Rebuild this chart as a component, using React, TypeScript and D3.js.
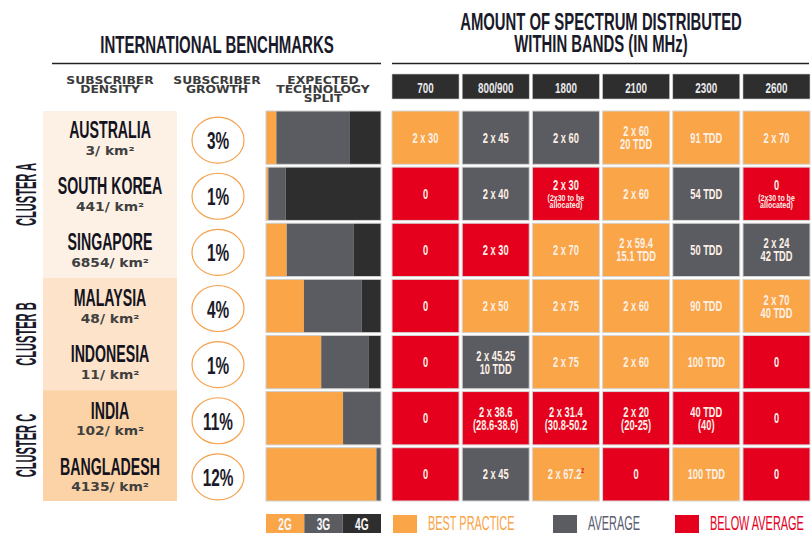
import React, { useEffect, useRef } from "react";
import * as d3 from "d3";

const countries = ["AUSTRALIA", "SOUTH KOREA", "SINGAPORE", "MALAYSIA", "INDONESIA", "INDIA", "BANGLADESH"];
const densities = [3, 441, 6854, 48, 11, 102, 4135];
const growth = [3, 1, 1, 4, 1, 11, 12];
const clusterOf = ["A", "A", "A", "B", "B", "C", "C"];
const clusters = ["A", "B", "C"];
const share2G = [9, 2, 18, 33, 48, 67, 96];
const share3G = [64, 15, 58, 50, 41, 33, 4];
const share4G = [27, 83, 24, 17, 11, 0, 0];
const techLabels = ["2G", "3G", "4G"];
const bands = ["700", "800/900", "1800", "2100", "2300", "2600"];
// "|" splits a cell into lines
const spectrum = [
    ["2 x 30", "2 x 45", "2 x 60", "2 x 60|20 TDD", "91 TDD", "2 x 70"],
    ["0", "2 x 40", "2 x 30", "2 x 60", "54 TDD", "0"],
    ["0", "2 x 30", "2 x 70", "2 x 59.4|15.1 TDD", "50 TDD", "2 x 24|42 TDD"],
    ["0", "2 x 50", "2 x 75", "2 x 60", "90 TDD", "2 x 70|40 TDD"],
    ["0", "2 x 45.25|10 TDD", "2 x 75", "2 x 60", "100 TDD", "0"],
    ["0", "2 x 38.6|(28.6-38.6)", "2 x 31.4|(30.8-50.2", "2 x 20|(20-25)", "40 TDD|(40)", "0"],
    ["0", "2 x 45", "2 x 67.2", "0", "100 TDD", "0"],
];
const rating = [
    ["best", "avg", "avg", "best", "best", "best"],
    ["below", "avg", "below", "best", "avg", "below"],
    ["below", "below", "best", "best", "avg", "avg"],
    ["below", "best", "best", "best", "best", "best"],
    ["below", "avg", "best", "best", "best", "below"],
    ["below", "below", "below", "below", "below", "below"],
    ["below", "avg", "best", "below", "best", "below"],
];
const notes = [
    { row: 1, col: 2, text: "(2x30 to be|allocated)" },
    { row: 1, col: 5, text: "(2x30 to be|allocated)" },
];
const footnotes = [{ row: 6, col: 2, mark: "2" }];
const ratingKeys = ["best", "avg", "below"];
const ratingLabels = ["BEST PRACTICE", "AVERAGE", "BELOW AVERAGE"];

const ORANGE = "#f9a548";
const GREY = "#5b5c61";
const DARK = "#2e2e2e";
const RED = "#e5001e";
const NAVY = "#1a1a2a";
const COND = "'Liberation Sans', Arial, sans-serif";
const WIDE = "'DejaVu Sans', sans-serif";

const ratingColor = { best: ORANGE, avg: GREY, below: RED };
const clusterFill = { A: "#fdf1e5", B: "#fde3c9", C: "#fcd3a7" };

const label = (g, txt, x, y, size, sx, fill, anchor = "middle", weight = "bold", family = COND) =>
    g.append("text")
        .attr("transform", `translate(${x},${y}) scale(${sx},1)`)
        .attr("text-anchor", anchor)
        .style("font-family", family)
        .style("font-size", size + "px")
        .style("font-weight", weight)
        .style("fill", fill)
        .text(txt);

const App = () => {
    const ref = useRef(null);

    useEffect(() => {
        const svg = d3.select(ref.current);
        svg.selectAll("*").remove();

        const y = d3.scaleBand().domain(countries).range([111, 501]).paddingInner(0.05);
        const x = d3.scaleBand().domain(bands).range([392, 810]).paddingInner(0.045);
        const share = d3.scaleLinear().domain([0, 100]).range([266, 381]);
        const bw = y.bandwidth();
        const gap = y.step() - bw;

        // titles
        label(svg, "INTERNATIONAL BENCHMARKS", 217, 53, 24, 0.625, NAVY);
        label(svg, "AMOUNT OF SPECTRUM DISTRIBUTED", 601, 30, 24, 0.62, NAVY);
        label(svg, "WITHIN BANDS (IN MHz)", 601, 52, 24, 0.62, NAVY);
        svg.append("line").attr("x1", 52).attr("x2", 381).attr("y1", 63.5).attr("y2", 63.5)
            .style("stroke", "#222").style("stroke-width", 1.3);
        svg.append("line").attr("x1", 392).attr("x2", 809).attr("y1", 63.5).attr("y2", 63.5)
            .style("stroke", "#222").style("stroke-width", 1.3);

        // column headers, left
        const heads = [
            { cx: 110, lines: ["SUBSCRIBER", "DENSITY"] },
            { cx: 217, lines: ["SUBSCRIBER", "GROWTH"] },
            { cx: 323, lines: ["EXPECTED", "TECHNOLOGY", "SPLIT"] },
        ];
        heads.forEach(h => h.lines.forEach((l, i) =>
            label(svg, l, h.cx, 83.5 + i * 9.3, 11, 1.12, "#3b3b3b", "middle", "bold", WIDE)));

        // band headers
        svg.selectAll(".band").data(bands).enter().append("rect")
            .attr("x", d => x(d)).attr("y", 74).attr("width", x.bandwidth()).attr("height", 25)
            .style("fill", DARK).style("stroke", "#cfcfcf").style("stroke-width", 0.6);
        bands.forEach(b => label(svg, b, x(b) + x.bandwidth() / 2, 92.5, 14.5, 0.68, "#e9e9ec"));

        // cluster panels
        clusters.forEach((c, ci) => {
            const rows = countries.filter((d, i) => clusterOf[i] === c);
            const top = y(rows[0]) - (ci === 0 ? 0 : gap / 2);
            const bottom = y(rows[rows.length - 1]) + bw + (ci === clusters.length - 1 ? 0 : gap / 2);
            svg.append("rect").attr("x", 43).attr("y", top).attr("width", 134).attr("height", bottom - top)
                .style("fill", clusterFill[c]);
            svg.append("text")
                .attr("transform", `translate(36,${(top + bottom) / 2}) rotate(-90) scale(0.37,1)`)
                .attr("text-anchor", "middle")
                .style("font-family", COND).style("font-size", "30px").style("font-weight", "bold")
                .style("fill", NAVY)
                .text("CLUSTER " + c);
        });

        countries.forEach((name, i) => {
            const top = y(name);
            const cy = top + bw / 2;
            label(svg, name, 110, top + 27, 24, 0.59, "#14141f");
            label(svg, `${densities[i]}/ km²`, 110, top + 43.5, 11.5, 1.2, "#404040", "middle", "bold", WIDE);

            svg.append("ellipse").attr("cx", 218).attr("cy", cy + 2.5).attr("rx", 26).attr("ry", 23)
                .style("fill", "#fff").style("stroke", "#f4a04c").style("stroke-width", 1.2);
            label(svg, growth[i] + "%", 218, cy + 11.5, 24, 0.64, NAVY);
        });

        // technology split bars
        const splitRows = countries.map((c, i) => ({ country: c, g2: share2G[i], g3: share3G[i], g4: share4G[i] }));
        const stack = d3.stack().keys(["g2", "g3", "g4"])(splitRows);
        const techColor = d3.scaleOrdinal().domain(["g2", "g3", "g4"]).range([ORANGE, GREY, DARK]);
        stack.forEach(layer => {
            svg.selectAll(".seg-" + layer.key).data(layer).enter().append("rect")
                .attr("x", d => share(d[0])).attr("y", d => y(d.data.country))
                .attr("width", d => share(d[1]) - share(d[0])).attr("height", bw)
                .style("fill", techColor(layer.key));
        });
        svg.selectAll(".tech-frame").data(countries).enter().append("rect")
            .attr("x", share(0)).attr("y", d => y(d)).attr("width", share(100) - share(0)).attr("height", bw)
            .style("fill", "none").style("stroke", "#cfcfcf").style("stroke-width", 1);

        // spectrum cells
        spectrum.forEach((row, r) => row.forEach((val, c) => {
            const cx = x(bands[c]) + x.bandwidth() / 2;
            const top = y(countries[r]);
            const cy = top + bw / 2;
            svg.append("rect").attr("x", x(bands[c])).attr("y", top).attr("width", x.bandwidth()).attr("height", bw)
                .style("fill", ratingColor[rating[r][c]]).style("stroke", "#d6d6d6").style("stroke-width", 1);
            const lines = val.split("|");
            const note = notes.find(n => n.row === r && n.col === c);
            const foot = footnotes.find(n => n.row === r && n.col === c);
            const txtFill = "#fdf0e6";
            if (note) {
                label(svg, lines[0], cx, cy - 4, 15, 0.62, txtFill);
                note.text.split("|").forEach((l, k) => label(svg, l, cx, cy + 7 + k * 7.5, 9, 0.78, txtFill));
            } else if (lines.length === 2) {
                lines.forEach((l, k) => label(svg, l, cx, cy - 1.5 + k * 13, 15, 0.62, txtFill));
            } else {
                const t = label(svg, lines[0], cx, cy + 5, 15, 0.62, txtFill);
                if (foot) {
                    t.append("tspan").attr("dy", -6).style("font-size", "8px").style("fill", RED)
                        .text(foot.mark);
                }
            }
        }));

        // 2G/3G/4G key
        const tx = d3.scaleBand().domain(techLabels).range([266, 381]);
        svg.selectAll(".tech-key").data(techLabels).enter().append("rect")
            .attr("x", d => tx(d)).attr("y", 514).attr("width", tx.bandwidth()).attr("height", 19)
            .style("fill", (d, i) => [ORANGE, GREY, DARK][i]);
        techLabels.forEach(t => label(svg, t, tx(t) + tx.bandwidth() / 2, 529.5, 17, 0.6, "#f7f7f7"));

        // rating legend
        const legendX = [393, 553, 675];
        const textFill = [ORANGE, "#5a6072", RED];
        ratingKeys.forEach((k, i) => {
            svg.append("rect").attr("x", legendX[i]).attr("y", 515).attr("width", 24).attr("height", 18)
                .style("fill", ratingColor[k]);
            label(svg, ratingLabels[i], legendX[i] + 35, 530, 19.5, 0.56, textFill[i], "start", "normal");
        });
    }, []);

    return (
        <svg ref={ref} width={812} height={533}
            style={{ position: "absolute", left: 0, top: 0, background: "#fff" }} />
    );
};

export default App;
